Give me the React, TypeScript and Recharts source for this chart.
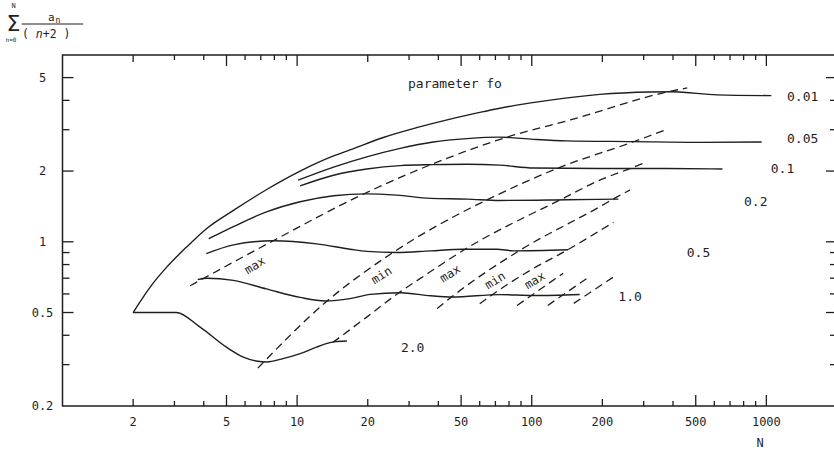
import React from 'react';
import { LineChart, Line, XAxis, YAxis, ReferenceDot } from 'recharts';

const INK = '#1e1e1e';
const MONO = '"DejaVu Sans Mono", "Liberation Mono", monospace';

// sum of a_n/(n+2) against N, one solid curve per parameter fo
const fo001N = [2, 2.36, 2.78, 3.38, 4.12, 5.35, 7.42, 10.3, 14.3, 16.8, 23.3, 32.3, 44.9, 62.2, 86.3, 120, 195, 320, 400, 615, 1050];
const fo001V = [0.5, 0.64, 0.78, 0.95, 1.14, 1.36, 1.67, 2.0, 2.32, 2.46, 2.78, 3.06, 3.33, 3.58, 3.82, 4.01, 4.24, 4.34, 4.35, 4.22, 4.19];

const fo005N = [10.1, 14.3, 19.8, 27.5, 38, 53, 73, 102, 141, 270, 520, 955];
const fo005V = [1.83, 2.08, 2.3, 2.5, 2.66, 2.75, 2.79, 2.73, 2.69, 2.67, 2.65, 2.66];

const fo01N = [10.3, 14.3, 19.8, 27.5, 38, 53, 73, 102, 195, 375, 650];
const fo01V = [1.73, 1.92, 2.04, 2.11, 2.13, 2.14, 2.12, 2.06, 2.05, 2.05, 2.04];

const fo02N = [4.2, 5.35, 7.4, 10.3, 14.3, 19.8, 26.6, 37, 53, 73, 141, 234];
const fo02V = [1.03, 1.16, 1.34, 1.48, 1.57, 1.6, 1.58, 1.53, 1.52, 1.5, 1.51, 1.52];

const fo05N = [4.1, 5.35, 7.9, 12.1, 16.8, 19.8, 26.6, 37, 51, 71, 83.5, 143];
const fo05V = [0.89, 0.97, 1.01, 0.98, 0.93, 0.91, 0.9, 0.915, 0.93, 0.93, 0.915, 0.925];

const fo10N = [3.77, 4.12, 5.35, 7.4, 10.3, 13.2, 16.8, 20.5, 27.5, 37, 46, 73, 102, 160];
const fo10V = [0.69, 0.7, 0.685, 0.63, 0.58, 0.56, 0.573, 0.597, 0.607, 0.589, 0.582, 0.596, 0.591, 0.597];

const fo20N = [2, 3.05, 3.86, 5.0, 5.9, 6.8, 7.4, 8.7, 10.3, 12.1, 14.3, 16.3];
const fo20V = [0.5, 0.5, 0.433, 0.356, 0.323, 0.31, 0.308, 0.318, 0.334, 0.356, 0.375, 0.378];

// dashed loci of the maxima and minima
const max1N = [3.5, 8.05, 19.5, 37.6, 78.5, 146, 377, 460];
const max1V = [0.65, 1.02, 1.61, 2.14, 2.79, 3.3, 4.34, 4.52];
const min1N = [6.8, 13.15, 25.6, 54.6, 66.4, 129.5, 270, 381];
const min1V = [0.29, 0.55, 0.9, 1.39, 1.53, 2.06, 2.66, 3.02];
const locus3N = [14.2, 19.8, 26.9, 33.4, 52, 136, 195, 262, 299];
const locus3V = [0.373, 0.478, 0.603, 0.697, 0.93, 1.53, 1.83, 2.05, 2.16];
const max2N = [39.5, 46.3, 89, 195, 230, 262];
const max2V = [0.52, 0.59, 0.92, 1.41, 1.55, 1.66];
const min2N = [60, 68.6, 98.4, 141, 223];
const min2V = [0.545, 0.6, 0.756, 0.92, 1.21];
const max3N = [86.6, 136];
const max3V = [0.536, 0.734];
const locus7N = [117, 177];
const locus7V = [0.536, 0.713];
const locus8N = [151, 222];
const locus8V = [0.547, 0.706];

const xTicks = [2, 3, 4, 5, 6, 7, 8, 9, 10, 20, 30, 40, 50, 60, 70, 80, 90, 100, 200, 300, 400, 500, 600, 700, 800, 900, 1000];
const xTickLabels = [2, 5, 10, 20, 50, 100, 200, 500, 1000];
const yTicks = [0.2, 0.3, 0.4, 0.5, 0.6, 0.7, 0.8, 0.9, 1, 2, 3, 4, 5];
const yTickLabels = [0.2, 0.5, 1, 2, 5];

const curveLabels = [
  { text: '0.01', n: 1225, v: 4.17 },
  { text: '0.05', n: 1225, v: 2.755 },
  { text: '0.1', n: 1044, v: 2.05 },
  { text: '0.2', n: 803, v: 1.478 },
  { text: '0.5', n: 458, v: 0.899 },
  { text: '1.0', n: 234, v: 0.586 },
  { text: '2.0', n: 27.7, v: 0.355 },
];

const extremaLabels = [
  { text: 'max', n: 6.61, v: 0.794 },
  { text: 'min', n: 22.9, v: 0.72 },
  { text: 'max', n: 44.9, v: 0.732 },
  { text: 'min', n: 69.8, v: 0.685 },
  { text: 'max', n: 103, v: 0.685 },
];

const X_DOMAIN = [1, 2000];
const Y_DOMAIN = [0.2, 6.24];

// chart box: the plot area that the margins and axis sizes below leave
const CHART_W = 838;
const CHART_H = 453;
const MARGIN = { top: 54, right: 0, bottom: 0, left: 0 };
const TOP_AXIS_H = 1;
const BOTTOM_AXIS_H = 47;
const LEFT_AXIS_W = 62.5;
const RIGHT_AXIS_W = 1;
const PLOT = {
  left: MARGIN.left + LEFT_AXIS_W,
  right: CHART_W - MARGIN.right - RIGHT_AXIS_W,
  top: MARGIN.top + TOP_AXIS_H,
  bottom: CHART_H - MARGIN.bottom - BOTTOM_AXIS_H,
};

// same log mapping as the chart's axes, used for the frame's tick marks
const sx = (n: number) =>
  PLOT.left + ((PLOT.right - PLOT.left) * Math.log(n / X_DOMAIN[0])) / Math.log(X_DOMAIN[1] / X_DOMAIN[0]);
const sy = (v: number) =>
  PLOT.bottom - ((PLOT.bottom - PLOT.top) * Math.log(v / Y_DOMAIN[0])) / Math.log(Y_DOMAIN[1] / Y_DOMAIN[0]);

const rows = (ns: number[], vs: number[]) => ns.map((n, i) => ({ n, v: vs[i] }));

const solid = [
  rows(fo001N, fo001V), rows(fo005N, fo005V), rows(fo01N, fo01V), rows(fo02N, fo02V),
  rows(fo05N, fo05V), rows(fo10N, fo10V), rows(fo20N, fo20V),
];
const dashed = [
  rows(max1N, max1V), rows(min1N, min1V), rows(locus3N, locus3V), rows(max2N, max2V),
  rows(min2N, min2V), rows(max3N, max3V), rows(locus7N, locus7V), rows(locus8N, locus8V),
];

const xLong = [5, 10, 50, 100, 500, 1000];
const xMid = [2, 20, 200];
const yLong = [0.5, 1, 2, 5];
const xLen = (v: number) => (xLong.includes(v) ? 11 : xMid.includes(v) ? 7 : 5);
const yLen = (v: number) => (yLong.includes(v) ? 11 : 7);

const bottomLabel = (p: any) => {
  const v = p.payload.value;
  if (!xTickLabels.includes(v)) return <g />;
  return (
    <text x={p.x} y={p.y + 20} textAnchor="middle" fontSize={12} fontFamily={MONO} fill={INK}>
      {v}
    </text>
  );
};

const leftLabel = (p: any) => {
  const v = p.payload.value;
  if (!yTickLabels.includes(v)) return <g />;
  return (
    <text x={p.x - 20} y={p.y + 4} textAnchor="middle" fontSize={12} fontFamily={MONO} fill={INK}>
      {String(v)}
    </text>
  );
};

const textShape = (text: string, anchor: string, rotate = 0, size = 13) => (p: any) => (
  <text
    x={p.cx}
    y={p.cy}
    textAnchor={anchor}
    dominantBaseline="central"
    fontSize={size}
    fontFamily={MONO}
    fill={INK}
    transform={rotate ? `rotate(${rotate} ${p.cx} ${p.cy})` : undefined}
  >
    {text}
  </text>
);

function Frame() {
  return (
    <svg width={834} height={453} style={{ position: 'absolute', left: 0, top: 0, pointerEvents: 'none' }}>
      <rect
        x={PLOT.left} y={PLOT.top} width={PLOT.right - PLOT.left} height={PLOT.bottom - PLOT.top}
        fill="none" stroke={INK} strokeWidth={1.5}
      />
      <g stroke={INK} strokeWidth={1.3}>
        {xTicks.map((t) => (
          <g key={`x${t}`}>
            <line x1={sx(t)} y1={PLOT.bottom} x2={sx(t)} y2={PLOT.bottom - xLen(t)} />
            <line x1={sx(t)} y1={PLOT.top} x2={sx(t)} y2={PLOT.top + xLen(t)} />
          </g>
        ))}
        {yTicks.slice(1).map((t) => (
          <g key={`y${t}`}>
            <line x1={PLOT.left} y1={sy(t)} x2={PLOT.left + yLen(t)} y2={sy(t)} />
            <line x1={PLOT.right} y1={sy(t)} x2={PLOT.right - yLen(t)} y2={sy(t)} />
          </g>
        ))}
      </g>
      <g fill={INK} fontFamily={MONO}>
        <text x={13.5} y={8} fontSize={7} textAnchor="middle">N</text>
        <text x={13.5} y={31} fontSize={22} textAnchor="middle" fontFamily='"DejaVu Sans", sans-serif'>Σ</text>
        <text x={11} y={42} fontSize={6} textAnchor="middle">n=0</text>
        <text x={48} y={21} fontSize={11}>a</text>
        <text x={55.5} y={23} fontSize={8}>n</text>
        <text x={22} y={38} fontSize={11.5}>( <tspan fontStyle="italic">n</tspan>+2  )</text>
        <text x={760} y={447} fontSize={12} textAnchor="middle">N</text>
      </g>
      <line x1={21.7} y1={24} x2={83.3} y2={24} stroke={INK} strokeWidth={1} />
    </svg>
  );
}

export default function App() {
  return (
    <div style={{ position: 'absolute', left: 0, top: 0, width: 834, height: 453, overflow: 'hidden', background: '#fff' }}>
      <div style={{ position: 'absolute', left: 0, top: 0 }}>
        <LineChart width={CHART_W} height={CHART_H} margin={MARGIN}>
          <XAxis
            xAxisId="b" dataKey="n" type="number" scale="log" domain={X_DOMAIN} allowDataOverflow
            ticks={xTicks} interval={0} tickLine={false} tickSize={0} tickMargin={0} height={BOTTOM_AXIS_H}
            axisLine={false} tick={bottomLabel}
          />
          <XAxis
            xAxisId="t" orientation="top" dataKey="n" type="number" scale="log" domain={X_DOMAIN} allowDataOverflow
            ticks={xTicks} interval={0} tickLine={false} tick={false} height={TOP_AXIS_H} axisLine={false}
          />
          <YAxis
            yAxisId="l" type="number" scale="log" domain={Y_DOMAIN} allowDataOverflow
            ticks={yTicks} interval={0} tickLine={false} tickSize={0} tickMargin={0} width={LEFT_AXIS_W}
            axisLine={false} tick={leftLabel}
          />
          <YAxis
            yAxisId="r" orientation="right" type="number" scale="log" domain={Y_DOMAIN} allowDataOverflow
            ticks={yTicks} interval={0} tickLine={false} tick={false} width={RIGHT_AXIS_W} axisLine={false}
          />
          {dashed.map((d, i) => (
            <Line
              key={`d${i}`} xAxisId="b" yAxisId="l" data={d} dataKey="v" type="monotone"
              stroke={INK} strokeWidth={1.3} strokeDasharray="8 5" dot={false} activeDot={false}
              isAnimationActive={false}
            />
          ))}
          {solid.map((d, i) => (
            <Line
              key={`s${i}`} xAxisId="b" yAxisId="l" data={d} dataKey="v" type="monotone"
              stroke={INK} strokeWidth={1.4} dot={false} activeDot={false}
              isAnimationActive={false}
            />
          ))}
          <ReferenceDot xAxisId="b" yAxisId="l" x={29.7} y={4.7} r={0} shape={textShape('parameter fo', 'start')} />
          {curveLabels.map((l, i) => (
            <ReferenceDot key={`c${i}`} xAxisId="b" yAxisId="l" x={l.n} y={l.v} r={0} shape={textShape(l.text, 'start')} />
          ))}
          {extremaLabels.map((l, i) => (
            <ReferenceDot key={`e${i}`} xAxisId="b" yAxisId="l" x={l.n} y={l.v} r={0} shape={textShape(l.text, 'middle', -32, 12)} />
          ))}
        </LineChart>
      </div>
      <Frame />
    </div>
  );
}
